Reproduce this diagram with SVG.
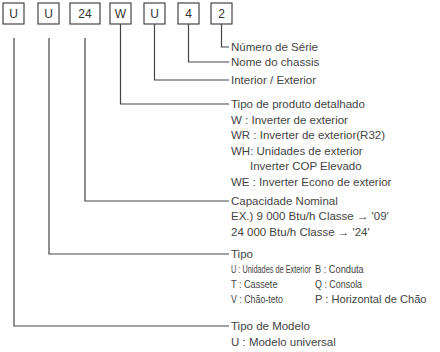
<svg xmlns="http://www.w3.org/2000/svg" width="440" height="352" viewBox="0 0 440 352">
<style>
.box rect{fill:#fff;stroke:#333;stroke-width:1.1}
.box text{font-family:"Liberation Sans",Arial,sans-serif;font-size:12px;fill:#333;text-anchor:middle}
.conn path{fill:none;stroke:#444;stroke-width:1.2}
.t{font-family:"Liberation Sans",Arial,sans-serif;font-size:11.5px;fill:#444}
.s{font-family:"Liberation Sans",Arial,sans-serif;font-size:10.5px;fill:#444}
</style>
<rect width="440" height="352" fill="#fff"/>
<g id="box1" class="box"><rect x="3" y="3" width="21" height="21"/><text x="13.5" y="18">U</text></g>
<g id="box2" class="box"><rect x="38" y="3" width="21" height="21"/><text x="48.5" y="18">U</text></g>
<g id="box3" class="box"><rect x="70" y="3" width="30" height="21"/><text x="85" y="18">24</text></g>
<g id="box4" class="box"><rect x="110" y="3" width="21" height="21"/><text x="120.5" y="18">W</text></g>
<g id="box5" class="box"><rect x="144" y="3" width="21" height="21"/><text x="154.5" y="18">U</text></g>
<g id="box6" class="box"><rect x="178" y="3" width="21" height="21"/><text x="188.5" y="18">4</text></g>
<g id="box7" class="box"><rect x="211" y="3" width="21" height="21"/><text x="221.5" y="18">2</text></g>
<g id="connectors" class="conn">
<path d="M221.5 24V47H229"/>
<path d="M188.5 24V62H229"/>
<path d="M154.5 24V80H229"/>
<path d="M120.5 24V104H229"/>
<path d="M85 38V201H229"/>
<path d="M49 38V254H229"/>
<path d="M14 38V326H229"/>
</g>
<g id="label-serie"><text class="t" x="231" y="51">Número de Série</text></g>
<g id="label-chassis"><text class="t" x="231" y="66">Nome do chassis</text></g>
<g id="label-interior"><text class="t" x="231" y="84">Interior / Exterior</text></g>
<g id="label-produto">
<text class="t" x="231" y="108">Tipo de produto detalhado</text>
<text class="t" x="231" y="124">W : Inverter de exterior</text>
<text class="t" x="231" y="139">WR : Inverter de exterior(R32)</text>
<text class="t" x="231" y="155">WH: Unidades de exterior</text>
<text class="t" x="250" y="170">Inverter COP Elevado</text>
<text class="t" x="231" y="186">WE : Inverter Econo de exterior</text>
</g>
<g id="label-capacidade">
<text class="t" x="231" y="205">Capacidade Nominal</text>
<text class="t" x="231" y="220">EX.) 9 000 Btu/h Classe → '09'</text>
<text class="t" x="231" y="236">24 000 Btu/h Classe → '24'</text>
</g>
<g id="label-tipo">
<text class="t" x="231" y="258">Tipo</text>
<text class="s" transform="translate(231,273) scale(0.7,1)">U : Unidades de Exterior</text>
<text class="s" transform="translate(231,288) scale(0.87,1)">T : Cassete</text>
<text class="s" transform="translate(231,303) scale(0.84,1)">V : Chão-teto</text>
<text class="s" transform="translate(315,273) scale(0.88,1)">B : Conduta</text>
<text class="s" transform="translate(315,288) scale(0.85,1)">Q : Consola</text>
<text class="s" transform="translate(315,303) scale(1.06,1)">P : Horizontal de Chão</text>
</g>
<g id="label-modelo">
<text class="t" x="231" y="330">Tipo de Modelo</text>
<text class="t" x="231" y="346">U : Modelo universal</text>
</g>
</svg>
